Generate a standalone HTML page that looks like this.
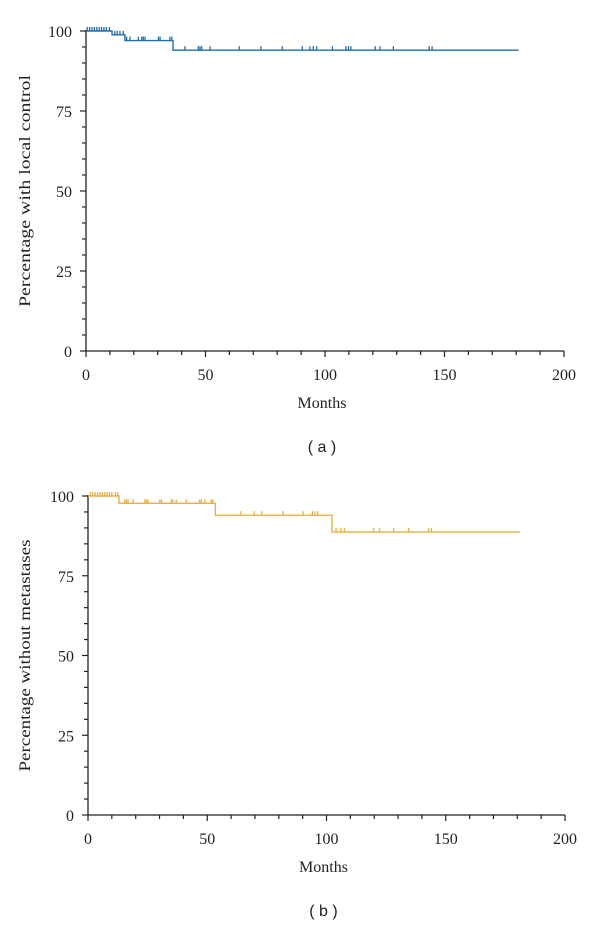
<!DOCTYPE html>
<html><head><meta charset="utf-8"><style>
body{margin:0;background:#fff}
svg{display:block}
text{font-family:"Liberation Serif",serif;fill:#222}
</style></head><body>
<svg id="s" width="600" height="931"></svg>
<script>
const xTicks=[0,50,100,150,200];
const yTicks=[0,25,50,75,100];
// Panel a: local control
const aTimes=[0,10.9,16.3,36.4,181];
const aSurv=[100,98.8,97,94,94];
const aCens=[0.5,1.5,2.5,3.5,4.5,5.5,6.5,7.5,8.5,9.8,12.1,13.1,14.2,15.6,17,18.4,21.9,23.3,24,24.7,30.3,31,35.1,35.9,41.4,47,47.7,48.4,51.9,64.1,73.2,82.1,90.5,93.7,95.1,96.5,103.1,108.7,109.8,110.8,121,123,128.6,143.6,144.8];
// Panel b: without metastases
const bTimes=[0,13,53.4,102.3,181];
const bSurv=[100,97.7,94,88.7,88.7];
const bCens=[1,2,3,4,5,6,7,8,9,10,11.5,12.5,15.4,16.1,16.8,18.9,23.8,24.5,25.2,30.1,30.8,34.9,35.6,37,41.2,46.8,47.5,48.9,51.6,52.3,64.2,69.7,72.9,81.8,90.2,94.1,95.2,96.3,104,106,107.5,119.8,122.3,128.2,134.4,142.8,144];
const NS='http://www.w3.org/2000/svg';
const svg=document.getElementById('s');
function mk(t,a,p){const e=document.createElementNS(NS,t);for(const k in a)e.setAttribute(k,a[k]);(p||svg).appendChild(e);return e;}
function panel(P){
 const g=mk('g',{});
 
 
 const X=v=>P.x0+v*(P.x1-P.x0)/200, Y=v=>P.y0-v*(P.y0-P.y1)/100;
 const ax=mk('path',{d:`M${X(0)},${Y(100)-1}V${Y(0)}H${X(200)}`,stroke:'#222','stroke-width':1.3,fill:'none'},g);
 
 for(let m=0;m<=200;m+=10){const l=mk('line',{x1:X(m),x2:X(m),y1:Y(0),y2:Y(0)+(m%50?4:6),stroke:'#222','stroke-width':1.2},g);
  }
 for(let v=0;v<=100;v+=5){const l=mk('line',{x1:X(0)-(v%25?4:6),x2:X(0),y1:Y(v),y2:Y(v),stroke:'#222','stroke-width':1.2},g);
  }
 xTicks.forEach(v=>{const t=mk('text',{x:X(v),y:Y(0)+29,'text-anchor':'middle','font-size':16},g);t.textContent=v;
  });
 yTicks.forEach(v=>{const t=mk('text',{x:X(0)-14,y:Y(v)+6,'text-anchor':'end','font-size':16},g);t.textContent=v;
  });
 const xt=mk('text',{x:(X(0)+X(200))/2-3,y:Y(0)+57,'text-anchor':'middle','font-size':16},g);xt.textContent='Months';
 
 const yc=(Y(0)+Y(100))/2;
 const yt=mk('text',{x:30,y:yc,'text-anchor':'middle','font-size':16,textLength:232,lengthAdjust:'spacingAndGlyphs',transform:`rotate(-90 30 ${yc})`},g);yt.textContent=P.ytitle;
 
 let d=`M${X(P.t[0])},${Y(P.s[0])}`;
 for(let i=1;i<P.t.length;i++){d+=`H${X(P.t[i])}V${Y(P.s[i])}`;}
 const ln=mk('path',{d,stroke:P.col,'stroke-width':1.4,fill:'none'},g);
 
 const lvl=m=>{let s=P.s[0];for(let i=0;i<P.t.length;i++){if(m>=P.t[i])s=P.s[i];}return s;};
 P.c.forEach(m=>{const y=Y(lvl(m));const c=mk('line',{x1:X(m),x2:X(m),y1:y-4,y2:y,stroke:P.col,'stroke-width':1.3},g);
  });
 const cap=mk('text',{x:(X(0)+X(200))/2-3,y:Y(0)+101,'text-anchor':'middle','font-size':16,style:'font-family:"Liberation Sans",sans-serif'},g);cap.textContent=P.cap;
 
}
panel({name:'panel-a-local-control',x0:86,x1:564,y0:351,y1:31,t:aTimes,s:aSurv,c:aCens,col:'#1f6faa',ytitle:'Percentage with local control',cap:'( a )'});
panel({name:'panel-b-metastases',x0:88,x1:565,y0:815,y1:496,t:bTimes,s:bSurv,c:bCens,col:'#e8b040',ytitle:'Percentage without metastases',cap:'( b )'});
</script>
</body></html>
